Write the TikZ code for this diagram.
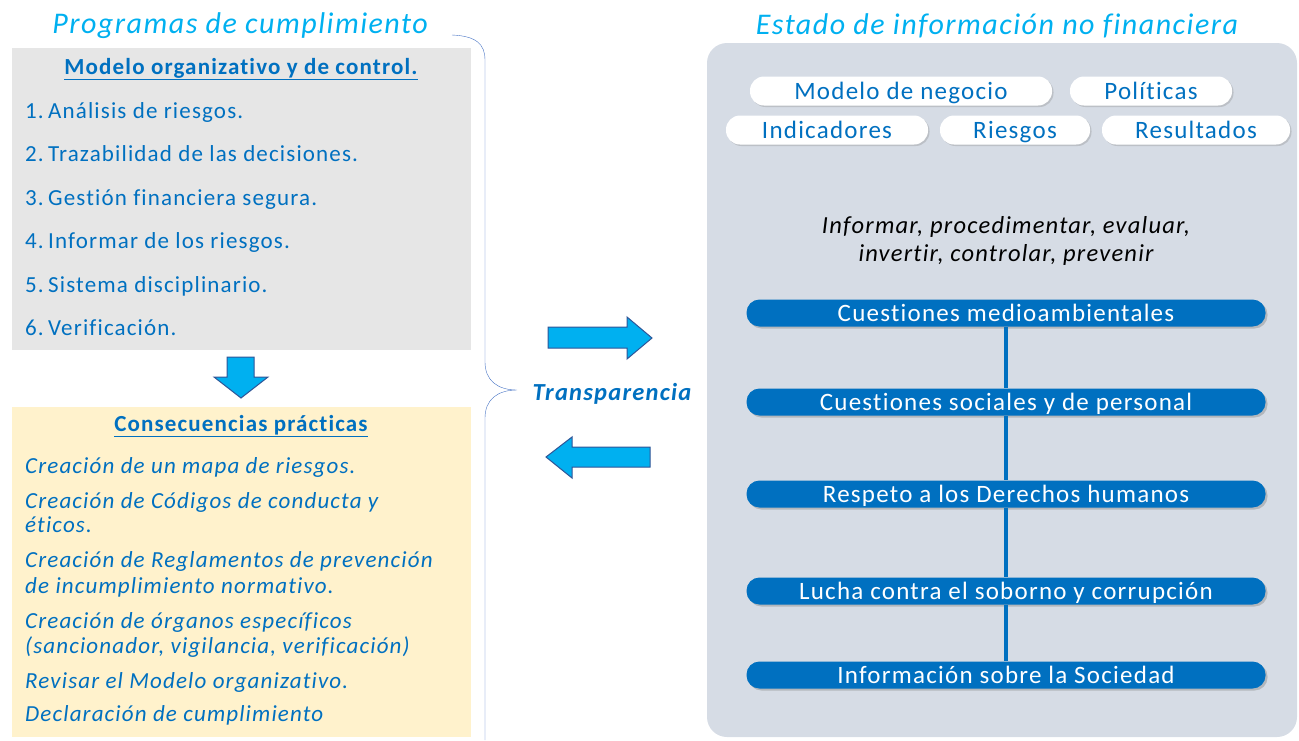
\documentclass[tikz,border=0pt]{standalone}
\usepackage{fontspec}
\setmainfont[LetterSpace=5, Ligatures=NoCommon]{Carlito}
\usetikzlibrary{shadows}

\definecolor{lightblue}{RGB}{0,176,240}
\definecolor{darkblue}{RGB}{0,112,192}
\definecolor{panelgray}{RGB}{214,220,229}
\definecolor{boxgray}{RGB}{230,230,230}
\definecolor{boxyellow}{RGB}{255,242,204}
\definecolor{braceblue}{RGB}{68,114,196}
\definecolor{arrowedge}{RGB}{47,85,151}

\begin{document}
\begin{tikzpicture}[x=1pt,y=-1pt]
        % styles
        \tikzstyle{title}=[text=lightblue, font=\fontsize{30}{36}\selectfont\itshape]
        \tikzstyle{heading}=[text=darkblue, font=\fontsize{23}{28}\selectfont\bfseries]
        \tikzstyle{item}=[text=darkblue, anchor=west, inner sep=0pt, text height=15pt, text depth=0pt, font=\fontsize{23}{28}\selectfont]
        \tikzstyle{consequence}=[item, font=\fontsize{23}{28}\selectfont\itshape]
        \tikzstyle{pill}=[fill=white, rounded corners=14pt, minimum height=29pt, inner sep=0pt, text height=16pt, text depth=0pt, text=darkblue, font=\fontsize{25}{30}\selectfont, drop shadow={opacity=0.3, shadow xshift=1.5pt, shadow yshift=-1.5pt}]
        \tikzstyle{bar}=[fill=darkblue, rounded corners=13pt, minimum width=519pt, minimum height=27pt, inner sep=0pt, text height=16pt, text depth=0pt, text=white, font=\fontsize{25}{30}\selectfont, drop shadow={opacity=0.4, shadow xshift=2pt, shadow yshift=-2pt}]
        \tikzstyle{link}=[draw=darkblue, line width=4pt]
        \tikzstyle{blockarrow}=[fill=lightblue, draw=arrowedge, line width=1pt, line join=miter]

        \useasboundingbox (0,0) rectangle (1299,740);

        % boxes
        \fill[boxgray] (12,48) rectangle (471,350);
        \fill[boxyellow] (12,407) rectangle (471,737);
        \fill[panelgray, rounded corners=20pt] (707,43) rectangle (1297,737);

        % titles
        \node[title] (progtitle) at (240,26) {Programas de cumplimiento};
        \node[title] (einftitle) at (997,26) {Estado de información no financiera};

        % modelo organizativo
        \node[heading] (modelo) at (241,69) {\underline{Modelo organizativo y de control.}};
        \node[item] (n1) at (25,111) {1.}; \node[item] (m1) at (48,111) {Análisis de riesgos.};
        \node[item] (n2) at (25,154) {2.}; \node[item] (m2) at (48,154) {Trazabilidad de las decisiones.};
        \node[item] (n3) at (25,198) {3.}; \node[item] (m3) at (48,198) {Gestión financiera segura.};
        \node[item] (n4) at (25,241) {4.}; \node[item] (m4) at (48,241) {Informar de los riesgos.};
        \node[item] (n5) at (25,285) {5.}; \node[item] (m5) at (48,285) {Sistema disciplinario.};
        \node[item] (n6) at (25,328) {6.}; \node[item] (m6) at (48,328) {Verificación.};

        % down arrow
        \draw[blockarrow] (227,357) -- (254,357) -- (254,377) -- (268,377) -- (241,398) -- (214,377) -- (227,377) -- cycle;

        % consecuencias
        \node[heading] (consec) at (241,426) {\underline{Consecuencias prácticas}};
        \node[consequence] (c1) at (25,466) {Creación de un mapa de riesgos.};
        \node[consequence] (c2) at (25,501) {Creación de Códigos de conducta y};
        \node[consequence] (c2b) at (25,525) {éticos.};
        \node[consequence] (c3) at (25,560) {Creación de Reglamentos de prevención};
        \node[consequence] (c3b) at (25,586) {de incumplimiento normativo.};
        \node[consequence] (c4) at (25,621) {Creación de órganos específicos};
        \node[consequence] (c4b) at (25,646) {(sancionador, vigilancia, verificación)};
        \node[consequence] (c5) at (25,681) {Revisar el Modelo organizativo.};
        \node[consequence] (c6) at (25,714) {Declaración de cumplimiento};

        % brace
        \draw[braceblue, thin] (452,35) .. controls (476,36) and (485,44) .. (485,60) -- (485,362)
            .. controls (485,380) and (497,390) .. (517,390)
            .. controls (497,390) and (485,400) .. (485,418) -- (485,740);

        % transparencia
        \node[text=darkblue, font=\fontsize{24.5}{29}\selectfont\bfseries\itshape] (transp) at (612,394) {Transparencia};
        \draw[blockarrow] (548,327) -- (627,327) -- (627,317) -- (652,338) -- (627,359) -- (627,348) -- (548,348) -- cycle;
        \draw[blockarrow] (650,447) -- (572,447) -- (572,437) -- (546,457) -- (572,478) -- (572,467) -- (650,467) -- cycle;

        % pills
        \node[pill, minimum width=302pt] (negocio) at (901,91) {Modelo de negocio};
        \node[pill, minimum width=162pt] (politicas) at (1151,91) {Políticas};
        \node[pill, minimum width=202pt] (indicadores) at (827,130) {Indicadores};
        \node[pill, minimum width=150pt] (riesgos) at (1015,130) {Riesgos};
        \node[pill, minimum width=188pt] (resultados) at (1196,130) {Resultados};

        % verbs
        \node[align=center, font=\fontsize{24.5}{28}\selectfont\itshape] (verbos) at (1006,241) {Informar, procedimentar, evaluar,\\invertir, controlar, prevenir};

        % bars
        \node[bar] (b1) at (1006,313) {Cuestiones medioambientales};
        \node[bar] (b2) at (1006,402) {Cuestiones sociales y de personal};
        \node[bar] (b3) at (1006,494) {Respeto a los Derechos humanos};
        \node[bar] (b4) at (1006,591) {Lucha contra el soborno y corrupción};
        \node[bar] (b5) at (1006,675) {Información sobre la Sociedad};

        % links
        \draw[link] (b1) -- (b2);
        \draw[link] (b2) -- (b3);
        \draw[link] (b3) -- (b4);
        \draw[link] (b4) -- (b5);
\end{tikzpicture}
\end{document}
